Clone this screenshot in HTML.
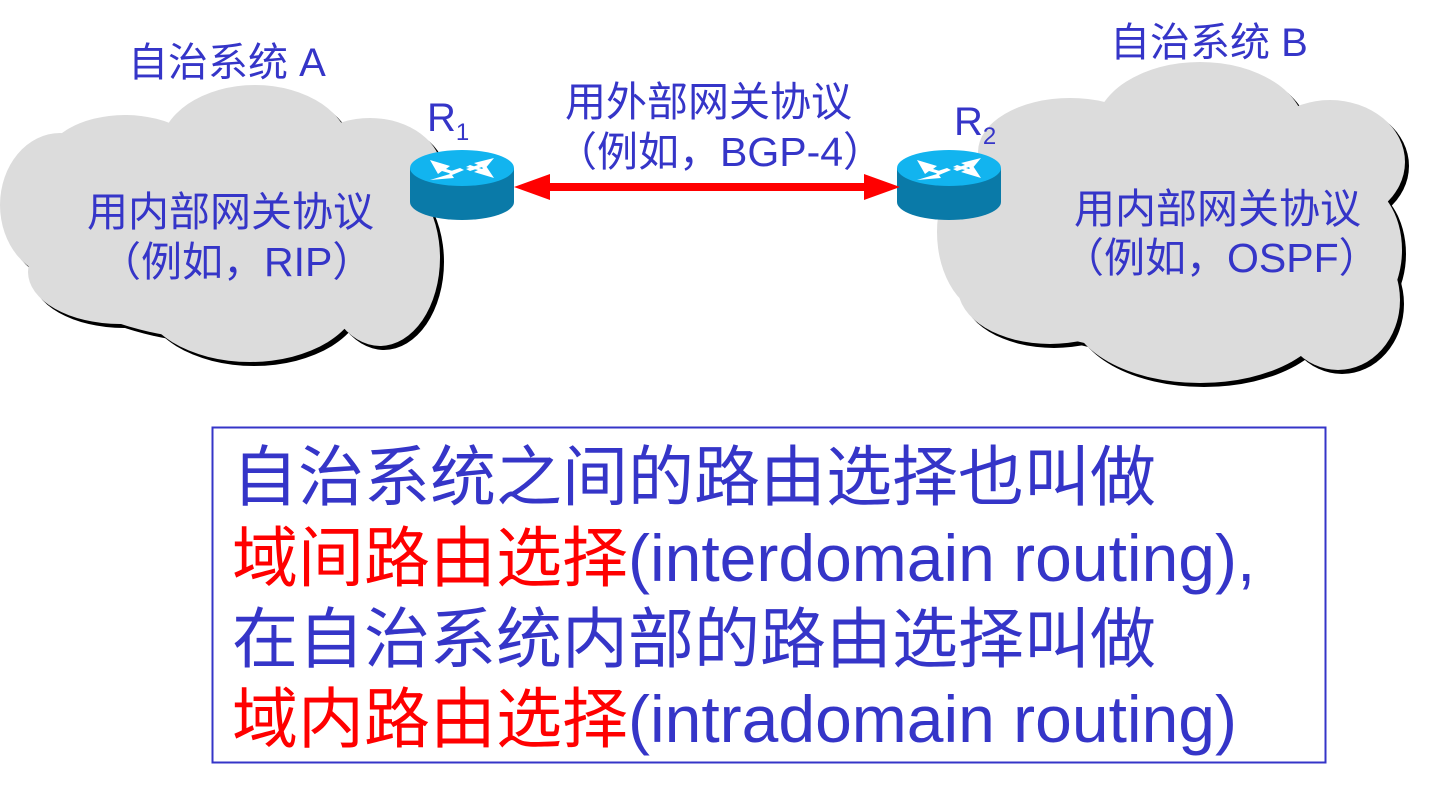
<!DOCTYPE html>
<html><head><meta charset="utf-8"><style>
body{margin:0;background:#fff;width:1441px;height:795px;overflow:hidden;position:relative;font-family:"Liberation Sans","Noto Sans CJK SC",sans-serif}
.t{position:absolute;color:#3535c8;white-space:nowrap;line-height:1}
.r{color:#ff0000}
</style></head><body>
<svg width="1441" height="795" style="position:absolute;left:0;top:0">
<defs>
<g id="ca">
<ellipse cx="225" cy="230" rx="200" ry="110"/>
<ellipse cx="125" cy="165" rx="82" ry="50"/>
<ellipse cx="255" cy="150" rx="95" ry="65"/>
<ellipse cx="370" cy="172" rx="72" ry="54"/>
<ellipse cx="60" cy="205" rx="60" ry="72"/>
<ellipse cx="120" cy="272" rx="92" ry="52"/>
<ellipse cx="250" cy="294" rx="110" ry="68"/>
<ellipse cx="380" cy="258" rx="60" ry="88"/>
</g>
<g id="cb">
<ellipse cx="1170" cy="232" rx="225" ry="120"/>
<ellipse cx="1200" cy="130" rx="105" ry="68"/>
<ellipse cx="1070" cy="152" rx="92" ry="54"/>
<ellipse cx="1330" cy="162" rx="75" ry="62"/>
<ellipse cx="1358" cy="250" rx="44" ry="66"/>
<ellipse cx="1050" cy="288" rx="92" ry="56"/>
<ellipse cx="1200" cy="310" rx="130" ry="73"/>
<ellipse cx="1338" cy="300" rx="62" ry="70"/>
<ellipse cx="992" cy="232" rx="55" ry="82"/>
</g>
<g id="rt">
<path d="M0,18 L0,52 A52,18 0 0 0 104,52 L104,18 Z" fill="#0a7aa8"/>
<ellipse cx="52" cy="18" rx="52" ry="18" fill="#12b4ef"/>
<g fill="#fff">
<polygon points="20,10 40,16 36,19 46,22 42,24 32,21 28,24"/>
<polygon points="84,8 64,13 68,15 56,19 60,21 72,17 74,20"/>
<polygon points="20,30 40,24 38,22 50,18 54,20 42,25 44,28"/>
<polygon points="84,28 64,22 68,20 56,17 60,15 72,19 76,16"/>
</g>
</g>
</defs>
<use href="#ca" fill="#000" transform="translate(4,4)"/>
<use href="#ca" fill="#dcdcdc"/>
<use href="#cb" fill="#000" transform="translate(4,4)"/>
<use href="#cb" fill="#dcdcdc"/>
<use href="#rt" transform="translate(410,150)"/>
<use href="#rt" transform="translate(897,150)"/>
<rect x="548" y="183" width="320" height="8" fill="#ff0000"/>
<polygon points="514,187 550,174 550,200" fill="#ff0000"/>
<polygon points="900,187 864,174 864,200" fill="#ff0000"/>
<rect x="212.5" y="427.5" width="1113" height="335" fill="none" stroke="#3535c8" stroke-width="2"/>
</svg>
<div class="t" style="left:128px;top:43px;font-size:40px">自治系统 A</div>
<div class="t" style="left:1110px;top:23px;font-size:40px">自治系统 B</div>
<div class="t" style="left:427px;top:98px;font-size:40px">R<sub style="font-size:24px">1</sub></div>
<div class="t" style="left:954px;top:102px;font-size:40px">R<sub style="font-size:24px">2</sub></div>
<div class="t" style="left:565px;top:82px;font-size:41px">用外部网关协议</div>
<div class="t" style="left:556px;top:132px;font-size:41px">（例如，BGP-4）</div>
<div class="t" style="left:87px;top:192px;font-size:41px">用内部网关协议</div>
<div class="t" style="left:100px;top:242px;font-size:41px">（例如，RIP）</div>
<div class="t" style="left:1074px;top:189px;font-size:41px">用内部网关协议</div>
<div class="t" style="left:1063px;top:238px;font-size:41px">（例如，OSPF）</div>
<div class="t" style="left:232px;top:444px;font-size:66px">自治系统之间的路由选择也叫做</div>
<div class="t" style="left:232px;top:525px;font-size:66px"><span class="r">域间路由选择</span>(interdomain routing),</div>
<div class="t" style="left:232px;top:606px;font-size:66px">在自治系统内部的路由选择叫做</div>
<div class="t" style="left:232px;top:686px;font-size:66px"><span class="r">域内路由选择</span>(intradomain routing)</div>
</body></html>
